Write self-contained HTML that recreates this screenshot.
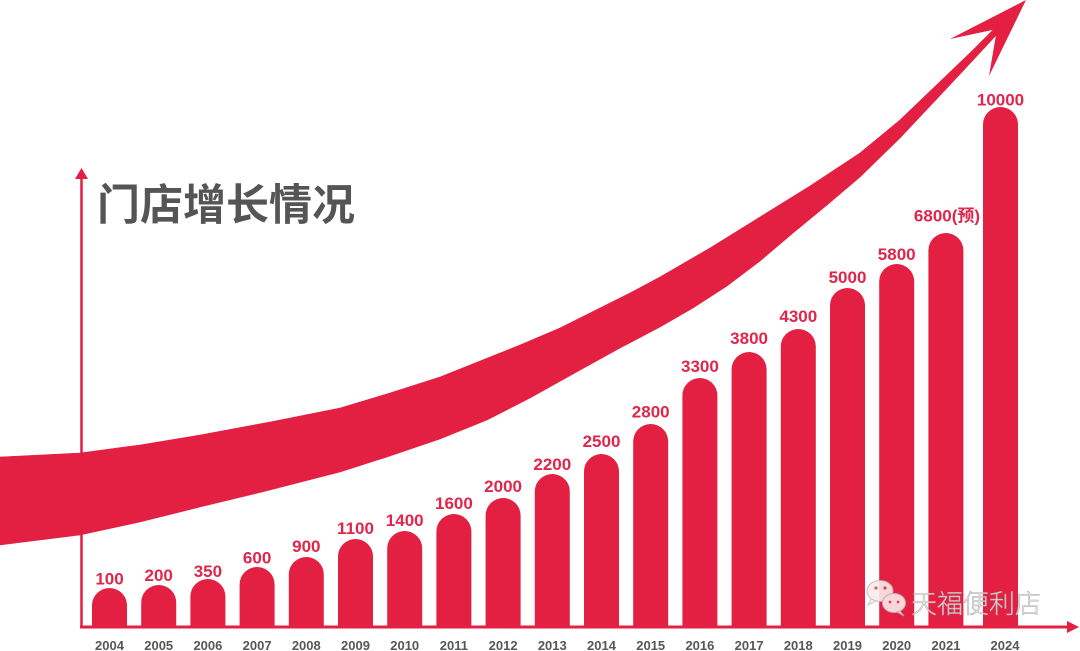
<!DOCTYPE html>
<html>
<head>
<meta charset="utf-8">
<style>
html,body{margin:0;padding:0;background:#fff;}
svg{display:block;}
.lbl{font-family:"Liberation Sans","Noto Sans CJK SC",sans-serif;font-weight:bold;font-size:17px;fill:#e0264a;text-anchor:middle;}
.yr{font-family:"Liberation Sans",sans-serif;font-weight:bold;font-size:13px;fill:#575757;text-anchor:middle;}
</style>
</head>
<body>
<svg width="1080" height="651" viewBox="0 0 1080 651" xmlns="http://www.w3.org/2000/svg">
<rect width="1080" height="651" fill="#fff"/>
<!-- swoosh -->
<polygon fill="#e31f42" stroke="#e31f42" stroke-width="0.6" stroke-linejoin="round" points="-2,457.5 0,457 80,453 140,445 200,435 270,422 340,408 390,393 440,377 480,361 520,345 560,328 600,308 630,293 660,277 710,248 760,217 810,186 860,153 900,120 947,75 972,51 995,28 1000,31 975,58 947,88 900,138 860,177 827,205 793,233 760,261 727,286 693,308 660,327 620,348 573,374 530,398 487,420 440,439 390,456 340,472 270,490 200,507 140,522 80,535 40,540 0,545 -2,545.5"/>
<polygon points="1026,0 950,39 997,29 989,76" fill="#e31f42"/>

<!-- title -->
<text x="97" y="220" font-family="'Noto Sans CJK SC','WenQuanYi Zen Hei',sans-serif" font-weight="bold" font-size="43" fill="#555">门店增长情况</text>

<!-- axes -->
<line x1="81.5" y1="176" x2="81.5" y2="628" stroke="#e31f42" stroke-width="2.5"/>
<polygon points="81.5,168 75,179 88,179" fill="#e31f42"/>
<line x1="80" y1="627" x2="1070" y2="627" stroke="#e31f42" stroke-width="3"/>
<polygon points="1079,627 1067,621 1067,633" fill="#e31f42"/>

<!-- bars -->
<g fill="#e31f42">
<path d="M92,626 V605.5 A17.5,17.5 0 0 1 127,605.5 V626 Z"/>
<path d="M141.2,626 V602.5 A17.5,17.5 0 0 1 176.2,602.5 V626 Z"/>
<path d="M190.4,626 V596.5 A17.5,17.5 0 0 1 225.4,596.5 V626 Z"/>
<path d="M239.6,626 V584.5 A17.5,17.5 0 0 1 274.6,584.5 V626 Z"/>
<path d="M288.8,626 V574.5 A17.5,17.5 0 0 1 323.8,574.5 V626 Z"/>
<path d="M338,626 V556.5 A17.5,17.5 0 0 1 373,556.5 V626 Z"/>
<path d="M387.2,626 V548.5 A17.5,17.5 0 0 1 422.2,548.5 V626 Z"/>
<path d="M436.4,626 V531.5 A17.5,17.5 0 0 1 471.4,531.5 V626 Z"/>
<path d="M485.6,626 V515.5 A17.5,17.5 0 0 1 520.6,515.5 V626 Z"/>
<path d="M534.8,626 V491.5 A17.5,17.5 0 0 1 569.8,491.5 V626 Z"/>
<path d="M584,626 V471.5 A17.5,17.5 0 0 1 619,471.5 V626 Z"/>
<path d="M633.2,626 V441.5 A17.5,17.5 0 0 1 668.2,441.5 V626 Z"/>
<path d="M682.4,626 V395.5 A17.5,17.5 0 0 1 717.4,395.5 V626 Z"/>
<path d="M731.6,626 V369.5 A17.5,17.5 0 0 1 766.6,369.5 V626 Z"/>
<path d="M780.8,626 V346.5 A17.5,17.5 0 0 1 815.8,346.5 V626 Z"/>
<path d="M830,626 V305.5 A17.5,17.5 0 0 1 865,305.5 V626 Z"/>
<path d="M879.2,626 V281.5 A17.5,17.5 0 0 1 914.2,281.5 V626 Z"/>
<path d="M928.4,626 V250.5 A17.5,17.5 0 0 1 963.4,250.5 V626 Z"/>
<path d="M983,626 V124.5 A17.5,17.5 0 0 1 1018,124.5 V626 Z"/>
</g>

<!-- value labels -->
<text class="lbl" x="109.5" y="584.5">100</text>
<text class="lbl" x="158.7" y="581">200</text>
<text class="lbl" x="207.9" y="577">350</text>
<text class="lbl" x="257.1" y="563.5">600</text>
<text class="lbl" x="306.3" y="552">900</text>
<text class="lbl" x="355.5" y="534">1100</text>
<text class="lbl" x="404.7" y="526">1400</text>
<text class="lbl" x="453.9" y="509">1600</text>
<text class="lbl" x="503.1" y="492">2000</text>
<text class="lbl" x="552.3" y="470">2200</text>
<text class="lbl" x="601.5" y="447">2500</text>
<text class="lbl" x="650.7" y="417.5">2800</text>
<text class="lbl" x="699.9" y="372">3300</text>
<text class="lbl" x="749.1" y="344">3800</text>
<text class="lbl" x="798.3" y="322">4300</text>
<text class="lbl" x="847.5" y="283">5000</text>
<text class="lbl" x="896.7" y="260">5800</text>
<text class="lbl" x="947" y="221.5">6800(预)</text>
<text class="lbl" x="1000.5" y="105.5">10000</text>

<!-- year labels -->
<text class="yr" x="109.5" y="650">2004</text>
<text class="yr" x="158.7" y="650">2005</text>
<text class="yr" x="207.9" y="650">2006</text>
<text class="yr" x="257.1" y="650">2007</text>
<text class="yr" x="306.3" y="650">2008</text>
<text class="yr" x="355.5" y="650">2009</text>
<text class="yr" x="404.7" y="650">2010</text>
<text class="yr" x="453.9" y="650">2011</text>
<text class="yr" x="503.1" y="650">2012</text>
<text class="yr" x="552.3" y="650">2013</text>
<text class="yr" x="601.5" y="650">2014</text>
<text class="yr" x="650.7" y="650">2015</text>
<text class="yr" x="699.9" y="650">2016</text>
<text class="yr" x="749.1" y="650">2017</text>
<text class="yr" x="798.3" y="650">2018</text>
<text class="yr" x="847.5" y="650">2019</text>
<text class="yr" x="896.7" y="650">2020</text>
<text class="yr" x="946" y="650">2021</text>
<text class="yr" x="1005" y="650">2024</text>

<!-- watermark -->
<g opacity="0.9">
<ellipse cx="880" cy="591" rx="13" ry="10.5" fill="#fbeaea" stroke="#bbb" stroke-width="1"/>
<path d="M871,599 L868,605 L876,601 Z" fill="#fbeaea" stroke="#bbb" stroke-width="0.8"/>
<ellipse cx="894" cy="603" rx="11.5" ry="9.5" fill="#fbeaea" stroke="#bbb" stroke-width="1"/>
<path d="M900,611 L904,616 L897,612 Z" fill="#fbeaea" stroke="#bbb" stroke-width="0.8"/>
<circle cx="876" cy="588" r="1.6" fill="#c55"/>
<circle cx="885" cy="588" r="1.6" fill="#c55"/>
<circle cx="890" cy="602" r="1.4" fill="#c55"/>
<circle cx="898" cy="602" r="1.4" fill="#c55"/>
<text x="911" y="613" font-family="'Noto Sans CJK SC','WenQuanYi Zen Hei',sans-serif" font-size="26" font-weight="300" fill="#f6f2f2" stroke="#aaa" stroke-width="0.6">天福便利店</text>
</g>
</svg>
</body>
</html>
